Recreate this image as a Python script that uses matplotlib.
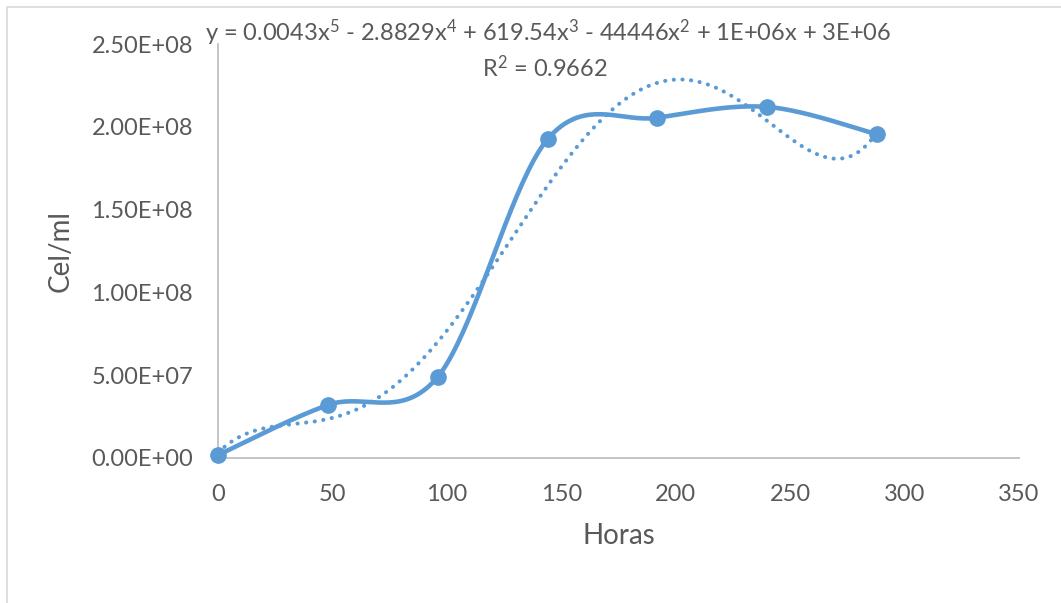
import numpy as np
import matplotlib.pyplot as plt
from matplotlib.patches import Rectangle

# datos del cultivo
horas = [0, 48, 96, 144, 192, 240, 288]
cel_ml = [1.8e6, 3.2e7, 4.9e7, 1.925e8, 2.055e8, 2.12e8, 1.955e8]
x_ticks = [0, 50, 100, 150, 200, 250, 300, 350]
y_ticks = [0, 5e7, 1e8, 1.5e8, 2e8, 2.5e8]
eq_text = (r"y = 0.0043x$^{5}$ - 2.8829x$^{4}$ + 619.54x$^{3}$ - 44446x$^{2}$"
           r" + 1E+06x + 3E+06")
r2_text = r"R$^{2}$ = 0.9662"

azul = '#5B9BD5'
gris = '#595959'

plt.rcParams['font.family'] = ['Lato', 'DejaVu Sans']
plt.rcParams['mathtext.fontset'] = 'custom'
plt.rcParams['mathtext.rm'] = 'Lato'
plt.rcParams['mathtext.it'] = 'Lato'


def suave(xs, ys, n=40):
    # curva suavizada tipo excel (catmull-rom)
    xs = np.asarray(xs, float)
    ys = np.asarray(ys, float)
    px = np.concatenate([[xs[0]], xs, [xs[-1]]])
    py = np.concatenate([[ys[0]], ys, [ys[-1]]])
    ox, oy = [], []
    for i in range(1, len(px) - 2):
        p0 = np.array([px[i], py[i]])
        p3 = np.array([px[i + 1], py[i + 1]])
        c1 = p0 + (np.array([px[i + 1], py[i + 1]]) - np.array([px[i - 1], py[i - 1]])) / 6
        c2 = p3 - (np.array([px[i + 2], py[i + 2]]) - np.array([px[i], py[i]])) / 6
        t = np.linspace(0, 1, n)[:, None]
        b = (1 - t) ** 3 * p0 + 3 * (1 - t) ** 2 * t * c1 + 3 * (1 - t) * t ** 2 * c2 + t ** 3 * p3
        ox.extend(b[:, 0])
        oy.extend(b[:, 1])
    return np.array(ox), np.array(oy)


fig = plt.figure(figsize=(10.61, 6.03), dpi=100)
ax = fig.add_axes([0.2055, 0.2405, 0.7549, 0.6865])

fig.patches.append(Rectangle((7 / 1061, -0.1), 1.2, 1 - 7 / 603 + 0.1,
                             transform=fig.transFigure, fill=False,
                             edgecolor='#D9D9D9', lw=1.2))

# linea de tendencia polinomica grado 5
coef = np.polyfit(horas, cel_ml, 5)
xt = np.linspace(0, 288, 300)
ax.plot(xt, np.polyval(coef, xt), color=azul, lw=2.9,
        linestyle=(0, (0.05, 2.1)), dash_capstyle='round', zorder=2)

sx, sy = suave(horas, cel_ml)
ax.plot(sx, sy, color=azul, lw=3.3, solid_capstyle='round', zorder=3,
        clip_on=False)
ax.plot(horas, cel_ml, 'o', color=azul, markersize=11, zorder=4,
        clip_on=False)

ax.set_xlim(0, 350)
ax.set_ylim(0, 2.5e8)
ax.set_xticks(x_ticks)
ax.set_yticks(y_ticks)
ax.set_yticklabels(['%.2E' % v for v in y_ticks])
ax.tick_params(length=0, labelsize=17, colors=gris)
ax.tick_params(axis='y', pad=18)
ax.tick_params(axis='x', pad=19)
for s in ['top', 'right']:
    ax.spines[s].set_visible(False)
for s in ['left', 'bottom']:
    ax.spines[s].set_color('#BFBFBF')
    ax.spines[s].set_linewidth(1.3)

ax.set_xlabel('Horas', fontsize=20, color=gris, labelpad=13)
ax.set_ylabel('Cel/ml', fontsize=20, color=gris, labelpad=13)

fig.text(548 / 1061, 1 - 33 / 603, eq_text, ha='center', va='center',
         fontsize=17, color=gris)
fig.text(545 / 1061, 1 - 68 / 603, r2_text, ha='center', va='center',
         fontsize=17, color=gris)

fig.savefig('out.png', dpi=100)
